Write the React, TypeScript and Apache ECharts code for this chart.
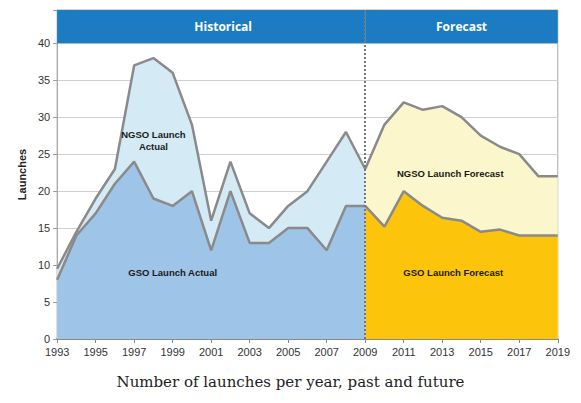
import React, { useEffect, useRef } from "react";
import * as echarts from "echarts";

const years = ["1993","1994","1995","1996","1997","1998","1999","2000","2001","2002","2003","2004","2005","2006","2007","2008","2009","2010","2011","2012","2013","2014","2015","2016","2017","2018","2019"];

// Top line (GSO + NGSO) historical
const totalActual = [9.5, 14.5, 19, 23, 37, 38, 36, 29, 16, 24, 17, 15, 18, 20, 24, 28, 23, null, null, null, null, null, null, null, null, null, null];
// GSO historical
const gsoActual = [8, 14, 17, 21, 24, 19, 18, 20, 12, 20, 13, 13, 15, 15, 12, 18, 18, null, null, null, null, null, null, null, null, null, null];
// Top line forecast
const totalForecast = [null, null, null, null, null, null, null, null, null, null, null, null, null, null, null, null, 23, 29, 32, 31, 31.5, 30, 27.5, 26, 25, 22, 22];
// GSO forecast
const gsoForecast = [null, null, null, null, null, null, null, null, null, null, null, null, null, null, null, null, 18, 15.2, 20, 18, 16.4, 16, 14.5, 14.8, 14, 14, 14];

const yMax = 44.5;
const headerBottom = 40;

export default function App() {
  const ref = useRef<HTMLDivElement>(null);
  useEffect(() => {
    if (!ref.current) return;
    const chart = echarts.init(ref.current, undefined, { renderer: "svg" });
    const lineStyle = { color: "#8a8a8a", width: 2.5 };
    const labelStyle = { color: "#1a1a1a", fontSize: 9.5, fontWeight: "bold" as const, fontFamily: "Liberation Sans, Arial, sans-serif", lineHeight: 12 };
    chart.setOption({
      animation: false,
      textStyle: { fontFamily: "Liberation Sans, Arial, sans-serif" },
      grid: { left: 45, right: 7, top: 2, bottom: 56, show: true, borderColor: "#aaaaaa", borderWidth: 1 },
      xAxis: {
        type: "category",
        data: years,
        boundaryGap: false,
        axisLine: { lineStyle: { color: "#8a8a8a", width: 2 } },
        axisTick: { show: true, interval: 1, length: 4, lineStyle: { color: "#8a8a8a" } },
        axisLabel: { interval: 1, color: "#333", fontSize: 11, margin: 7 },
        splitLine: { show: false },
      },
      yAxis: {
        type: "value",
        min: 0,
        max: yMax,
        interval: 5,
        name: "Launches",
        nameLocation: "middle",
        nameGap: 27,
        nameTextStyle: { color: "#222", fontSize: 11, fontWeight: "bold" },
        axisLine: { show: true, lineStyle: { color: "#aaaaaa" } },
        axisTick: { show: true, length: 4, lineStyle: { color: "#999" } },
        axisLabel: { color: "#333", fontSize: 11, margin: 7, formatter: (v: number) => (v > 40 ? "" : String(v)) },
        splitLine: { show: true, lineStyle: { color: "#d0d0d0", width: 1 } },
      },
      series: [
        {
          name: "NGSO Launch Actual",
          type: "line",
          data: totalActual,
          symbol: "none",
          lineStyle,
          areaStyle: { color: "#d4eaf5", opacity: 1 },
          markArea: {
            silent: true,
            itemStyle: { color: "#1b7cc4" },
            label: { show: true, position: "inside", color: "#fff", fontSize: 12, fontWeight: "bold", fontFamily: "Open Sans, sans-serif" },
            data: [
              [{ xAxis: "1993", yAxis: headerBottom, name: "Historical", label: { offset: [12, 0] } }, { xAxis: "2009", yAxis: yMax }],
              [{ xAxis: "2009", yAxis: headerBottom, name: "Forecast" }, { xAxis: "2019", yAxis: yMax }],
            ],
          },
          markPoint: {
            symbolSize: 0,
            label: { show: true, position: "inside", ...labelStyle, formatter: "NGSO Launch\nActual" },
            data: [{ coord: ["1998", 26.9], value: 0 }],
          },
        },
        {
          name: "GSO Launch Actual",
          type: "line",
          data: gsoActual,
          symbol: "none",
          lineStyle,
          areaStyle: { color: "#9ec4e8", opacity: 1 },
          markPoint: {
            symbolSize: 0,
            label: { show: true, position: "inside", ...labelStyle, formatter: "GSO Launch Actual" },
            data: [{ coord: ["1999", 9], value: 0 }],
          },
        },
        {
          name: "NGSO Launch Forecast",
          type: "line",
          data: totalForecast,
          symbol: "none",
          lineStyle,
          areaStyle: { color: "#fbf6cc", opacity: 1 },
          markPoint: {
            symbolSize: 0,
            label: { show: true, position: "inside", ...labelStyle, formatter: "NGSO Launch Forecast", offset: [8, 0] },
            data: [{ coord: ["2013", 22.4], value: 0 }],
          },
        },
        {
          name: "GSO Launch Forecast",
          type: "line",
          data: gsoForecast,
          symbol: "none",
          lineStyle,
          areaStyle: { color: "#fdc40c", opacity: 1 },
          markPoint: {
            symbolSize: 0,
            label: { show: true, position: "inside", ...labelStyle, formatter: "GSO Launch Forecast", offset: [11, 0] },
            data: [{ coord: ["2013", 9], value: 0 }],
          },
          markLine: {
            silent: true,
            symbol: "none",
            label: { show: false },
            lineStyle: { color: "#6f7a85", type: "dotted", width: 2 },
            z: 10,
            data: [{ xAxis: "2009" }],
          },
        },
      ],
      graphic: [
        {
          type: "text",
          left: "center",
          top: 366,
          style: { text: "Number of launches per year, past and future", fill: "#222", fontSize: 15, fontFamily: "DejaVu Serif, serif" },
        },
      ],
    });
    return () => chart.dispose();
  }, []);
  return <div ref={ref} style={{ width: 565, height: 387 }} />;
}
